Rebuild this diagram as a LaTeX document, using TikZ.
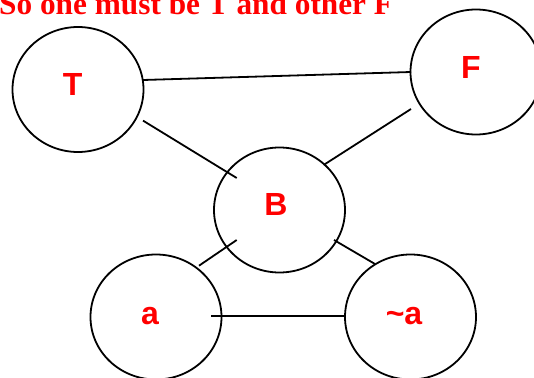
\documentclass[tikz,border=0pt]{standalone}
\usepackage{fontspec}
\setmainfont{Liberation Serif}
\newfontfamily\arialfont{Liberation Sans}
\usetikzlibrary{shapes.geometric,calc}
\definecolor{lblred}{RGB}{255,0,0}
\begin{document}
\begin{tikzpicture}[x=1pt,y=-1pt,
  blob/.style={draw=black,line width=1.8pt,ellipse,inner sep=0pt,minimum width=131pt,minimum height=125pt},
  lbl/.style={anchor=base,inner sep=0pt,text=lblred,font=\arialfont\bfseries\fontsize{32}{32}\selectfont},
  edge/.style={draw=black,line width=1.8pt}]
\useasboundingbox (0,0) rectangle (534,377);
\clip (0,0) rectangle (534,377);
\node[anchor=base west,inner sep=0pt,text=lblred,font=\bfseries\fontsize{31.3}{31.3}\selectfont] (title) at (-1,15) {So one must be T and other F};
\node[blob] (T) at (78,89.5) {};
\node[blob] (F) at (476,72) {};
\node[blob] (B) at (279.5,210) {};
\node[blob] (a) at (156,317) {};
\node[blob] (na) at (410.5,317) {};
\node[lbl] (Tl) at (72.7,95.7) {T};
\node[lbl] (Fl) at (471,79) {F};
\node[lbl] (Bl) at (276,215) {B};
\node[lbl] (al) at (150,324) {a};
\node[lbl] (nal) at (404,324) {\char`\~a};
\draw[edge] ($(T.center)+(65,-9.5)$) -- ($(F.center)+(-65,0)$);
\draw[edge] ($(T.center)+(65,31.1)$) -- ($(B.center)+(-42.8,-32)$);
\draw[edge] ($(F.center)+(-65,37)$) -- ($(B.center)+(44.1,-45)$);
\draw[edge] ($(a.center)+(43,-51.3)$) -- ($(B.center)+(-42.8,30)$);
\draw[edge] ($(B.center)+(54.5,30)$) -- ($(na.center)+(-35.5,-53)$);
\draw[edge] ($(a.center)+(55,-1.3)$) -- ($(na.center)+(-65.5,-1.3)$);
\end{tikzpicture}
\end{document}
